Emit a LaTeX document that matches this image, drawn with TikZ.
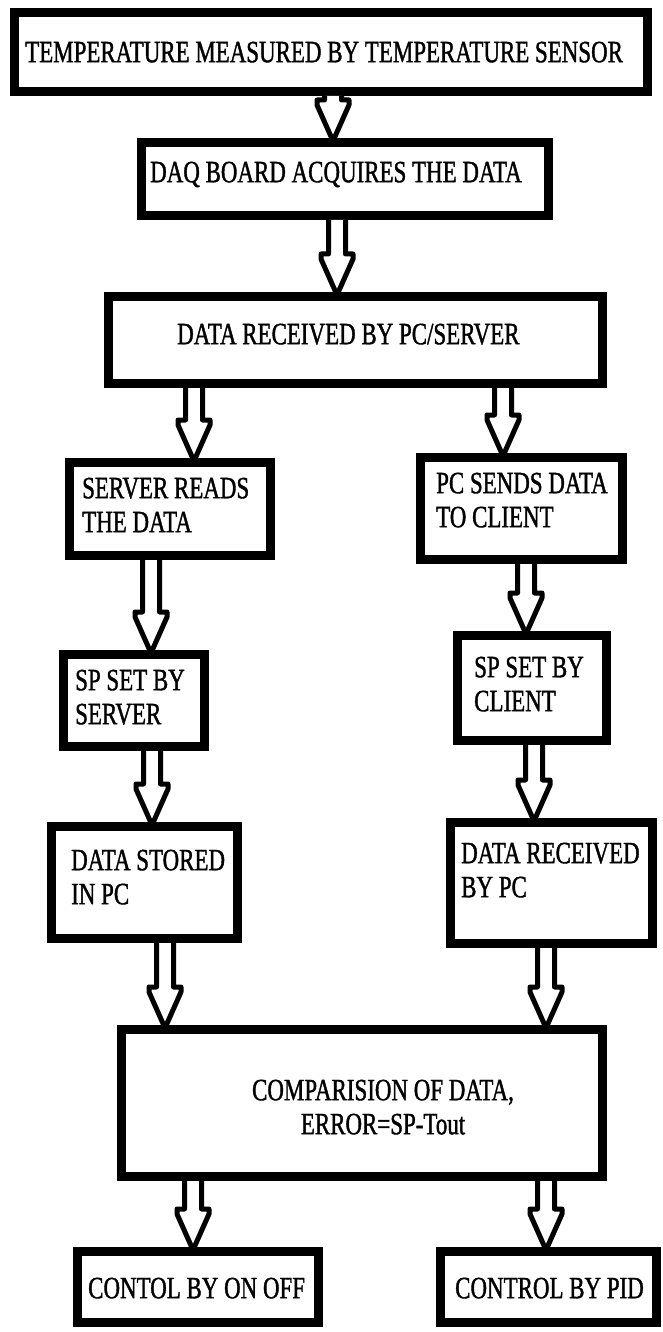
\documentclass[tikz,border=0pt]{standalone}
\usepackage{fontspec}
\setmainfont{Liberation Serif}[FakeStretch=0.74, FakeBold=1.2]
\usetikzlibrary{calc}

\tikzset{
  % thick-bordered process box (anchors sit on the outer edge of the border)
  stage/.style={rectangle, draw=black, line width=9pt, inner sep=0pt, outer sep=4.5pt},
  % box caption, placed by its top-left corner
  caption/.style={anchor=north west, inner sep=0pt, align=left,
    font=\rmfamily\fontsize{31}{34}\selectfont},
  % hollow block arrow from a box bottom down to the next box top
  blockarrow/.style={draw=black, fill=white, line width=5pt, line join=round,
    to path={let \p1=(\tikztostart), \p2=(\tikztotarget) in
      (\x1-8.5pt,\y1) -- (\x1-8.5pt,\y2+38pt) -- (\x1-16pt,\y2+38pt)
      -- (\x1-16pt,\y2+33pt) -- (\x1,\y2-3pt) -- (\x1+16pt,\y2+33pt)
      -- (\x1+16pt,\y2+38pt) -- (\x1+8.5pt,\y2+38pt) -- (\x1+8.5pt,\y1)}}
}

\begin{document}
\begin{tikzpicture}[x=1pt, y=-1pt]
\useasboundingbox (0,0) rectangle (662,1332);

% ---- boxes ----
\node[stage, minimum width=633pt, minimum height=79pt]  (temp)   at (331,52)      {};
\node[stage, minimum width=407pt, minimum height=73pt]  (daq)    at (345,179)     {};
\node[stage, minimum width=494pt, minimum height=87pt]  (recv)   at (355.5,340)   {};
\node[stage, minimum width=201pt, minimum height=93pt]  (sread)  at (170,509)     {};
\node[stage, minimum width=202pt, minimum height=102pt] (psend)  at (521.5,508.5) {};
\node[stage, minimum width=141pt, minimum height=92pt]  (spserv) at (134,700.5)   {};
\node[stage, minimum width=149pt, minimum height=105pt] (spcli)  at (532,688)     {};
\node[stage, minimum width=186pt, minimum height=112pt] (stored) at (144.5,882.5) {};
\node[stage, minimum width=202pt, minimum height=121pt] (recvpc) at (551.5,883)   {};
\node[stage, minimum width=481pt, minimum height=147pt] (comp)   at (362,1103)    {};
\node[stage, minimum width=241pt, minimum height=71pt]  (onoff)  at (198,1287)    {};
\node[stage, minimum width=216pt, minimum height=71pt]  (pid)    at (548.5,1287)  {};

% ---- captions ----
\node[caption] (ttemp)   at (25,41.5)   {TEMPERATURE MEASURED BY TEMPERATURE SENSOR};
\node[caption] (tdaq)    at (150,161.5) {DAQ BOARD ACQUIRES THE DATA};
\node[caption] (trecv)   at (177,323.5) {DATA RECEIVED BY PC/SERVER};
\node[caption] (tsread)  at (82,477.5)  {SERVER READS\\THE DATA};
\node[caption] (tpsend)  at (436,472.5) {PC SENDS DATA\\TO CLIENT};
\node[caption] (tspserv) at (75,669.5)  {SP SET BY\\SERVER};
\node[caption] (tspcli)  at (474,656.5) {SP SET BY\\CLIENT};
\node[caption] (tstored) at (71,849.5)  {DATA STORED\\IN PC};
\node[caption] (trecvpc) at (461,842.5) {DATA RECEIVED\\BY PC};
\node[caption, anchor=north, align=center] (tcomp) at (383,1079.5)
  {COMPARISION OF DATA,\\ERROR=SP-Tout};
\node[caption] (tonoff)  at (88,1277.5)  {CONTOL BY ON OFF};
\node[caption] (tpid)    at (455,1277.5) {CONTROL BY PID};

% ---- flow arrows ----
\draw[blockarrow] (temp.south -| 333,0)   to (daq.north -| 333,0);
\draw[blockarrow] (daq.south -| 337,0)    to (recv.north -| 337,0);
\draw[blockarrow] (recv.south -| 194,0)   to (sread.north -| 194,0);
\draw[blockarrow] (recv.south -| 503,0)   to (psend.north -| 503,0);
\draw[blockarrow] (sread.south -| 151,0)  to (spserv.north -| 151,0);
\draw[blockarrow] (psend.south -| 526,0)  to (spcli.north -| 526,0);
\draw[blockarrow] (spserv.south -| 152,0) to (stored.north -| 152,0);
\draw[blockarrow] (spcli.south -| 534,0)  to (recvpc.north -| 534,0);
\draw[blockarrow] (stored.south -| 165,0) to (comp.north -| 165,0);
\draw[blockarrow] (recvpc.south -| 546,0) to (comp.north -| 546,0);
\draw[blockarrow] (comp.south -| 193,0)   to (onoff.north -| 193,0);
\draw[blockarrow] (comp.south -| 546,0)   to (pid.north -| 546,0);
\end{tikzpicture}
\end{document}
